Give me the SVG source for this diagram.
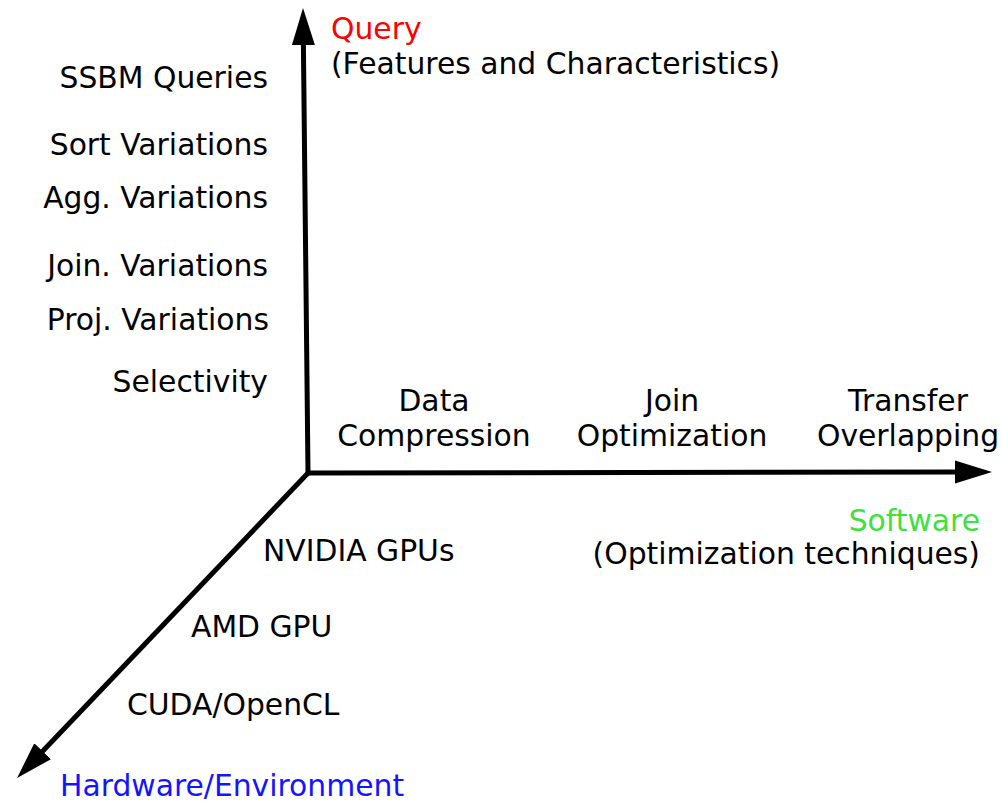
<svg xmlns="http://www.w3.org/2000/svg" width="1002" height="801" viewBox="0 0 1002 801">
<style>
text{font-family:"DejaVu Sans",Verdana,sans-serif;font-size:29.8px;fill:#000}
.r{text-anchor:end}
.m{text-anchor:middle}
.axis{fill:none;stroke:#000;stroke-width:5}
</style>
<defs>
<marker id="ah" markerUnits="userSpaceOnUse" markerWidth="37" markerHeight="24" refX="10" refY="12" orient="auto-start-reverse" viewBox="0 0 37 24">
<path d="M0,0.5 L37,12 L0,23.5 z" fill="#000"/>
</marker>
</defs>
<rect width="1002" height="801" fill="#fff"/>
<g id="connectors">
<path class="axis" d="M303.3,35 L308,473 L965,472" marker-start="url(#ah)" marker-end="url(#ah)"/>
<path class="axis" d="M309,472 L35.7,758.5" marker-end="url(#ah)"/>
</g>
<g id="query-axis-label">
<text x="331" y="39" style="fill:#ff0000">Query</text>
<text x="331" y="74">(Features and Characteristics)</text>
</g>
<g id="query-items">
<text class="r" x="268" y="88">SSBM Queries</text>
<text class="r" x="268" y="155">Sort Variations</text>
<text class="r" x="268" y="208">Agg. Variations</text>
<text class="r" x="268" y="276">Join. Variations</text>
<text class="r" x="269" y="330">Proj. Variations</text>
<text class="r" x="268" y="392">Selectivity</text>
</g>
<g id="software-items">
<text class="m" x="434" y="411">Data</text>
<text class="m" x="434" y="446">Compression</text>
<text class="m" x="672" y="411">Join</text>
<text class="m" x="672" y="446">Optimization</text>
<text class="m" x="908" y="411">Transfer</text>
<text class="m" x="908" y="446">Overlapping</text>
</g>
<g id="software-axis-label">
<text class="r" x="980" y="531" style="fill:#3fe03f">Software</text>
<text class="r" x="980" y="564">(Optimization techniques)</text>
</g>
<g id="hardware-items">
<text x="263" y="561">NVIDIA GPUs</text>
<text x="191" y="637">AMD GPU</text>
<text x="127" y="715">CUDA/OpenCL</text>
</g>
<g id="hardware-axis-label">
<text x="60" y="796" style="fill:#1414ff">Hardware/Environment</text>
</g>
</svg>
